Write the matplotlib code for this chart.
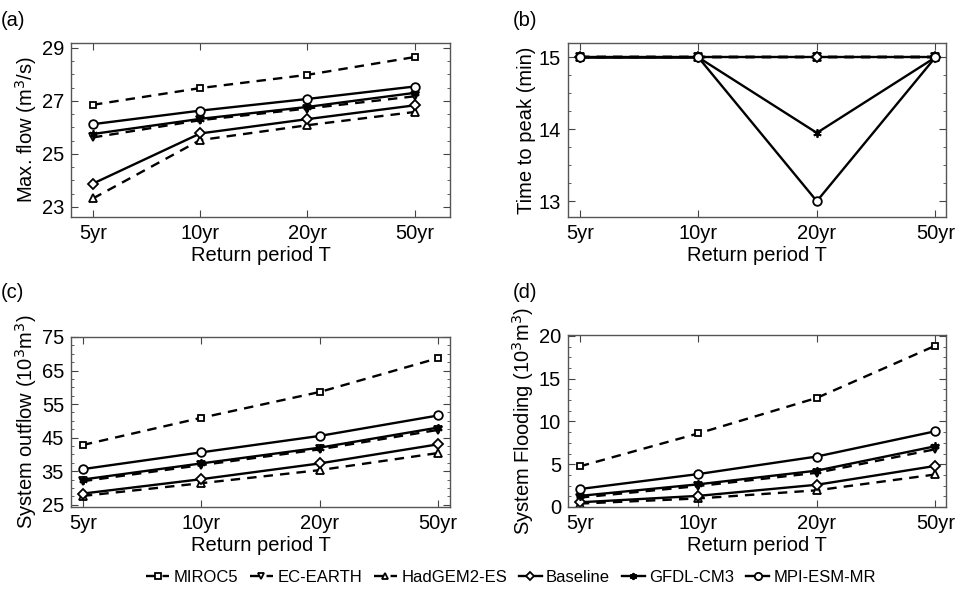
import matplotlib
matplotlib.use("Agg")
import matplotlib.pyplot as plt
from matplotlib.ticker import MultipleLocator
import numpy as np

plt.rcParams['font.family'] = ['Liberation Sans', 'DejaVu Sans']

periods = ["5yr", "10yr", "20yr", "50yr"]
series_names = ["MIROC5", "EC-EARTH", "HadGEM2-ES", "Baseline", "GFDL-CM3", "MPI-ESM-MR"]

max_flow = {
    "MIROC5":     [26.85, 27.48, 27.98, 28.65],
    "EC-EARTH":   [25.62, 26.27, 26.71, 27.17],
    "HadGEM2-ES": [23.32, 25.52, 26.08, 26.58],
    "Baseline":   [23.88, 25.77, 26.31, 26.83],
    "GFDL-CM3":   [25.75, 26.32, 26.77, 27.30],
    "MPI-ESM-MR": [26.12, 26.63, 27.07, 27.54],
}
time_to_peak = {
    "MIROC5":     [15, 15, 15, 15],
    "EC-EARTH":   [15, 15, 15, 15],
    "HadGEM2-ES": [15, 15, 15, 15],
    "Baseline":   [15, 15, 15, 15],
    "GFDL-CM3":   [15, 15, 13.95, 15],
    "MPI-ESM-MR": [15, 15, 13.0, 15],
}
outflow = {
    "MIROC5":     [42.8, 50.9, 58.6, 68.7],
    "EC-EARTH":   [32.0, 36.8, 41.5, 47.3],
    "HadGEM2-ES": [27.6, 31.4, 35.3, 40.4],
    "Baseline":   [28.3, 32.6, 37.3, 43.0],
    "GFDL-CM3":   [32.5, 37.3, 42.0, 48.0],
    "MPI-ESM-MR": [35.6, 40.6, 45.5, 51.6],
}
flooding = {
    "MIROC5":     [4.75, 8.6, 12.75, 18.85],
    "EC-EARTH":   [1.1, 2.45, 4.0, 6.75],
    "HadGEM2-ES": [0.4, 1.0, 1.95, 3.8],
    "Baseline":   [0.55, 1.3, 2.6, 4.8],
    "GFDL-CM3":   [1.3, 2.65, 4.25, 7.1],
    "MPI-ESM-MR": [2.1, 3.85, 5.9, 8.85],
}

styles = {
    "MIROC5":     dict(ls='--', marker='s', ms=4.8),
    "EC-EARTH":   dict(ls='--', marker='v', ms=5.5),
    "HadGEM2-ES": dict(ls='--', marker='^', ms=5.5),
    "Baseline":   dict(ls='-', marker='D', ms=4.6),
    "GFDL-CM3":   dict(ls='-', marker=(6, 2, 0), ms=6),
    "MPI-ESM-MR": dict(ls='-', marker='o', ms=6.2),
}

fig = plt.figure(figsize=(9.55, 5.92), dpi=100)
W, H = 955, 592

def add_ax(l, t, r, b):
    return fig.add_axes([l / W, (H - b) / H, (r - l) / W, (b - t) / H])

axa = add_ax(71, 43, 450, 217)
axb = add_ax(568, 43, 946, 217)
axc = add_ax(71, 337, 450, 507)
axd = add_ax(568, 335, 946, 507)

panels = [
    (axa, max_flow, "Max. flow (m$^3$/s)", (22.62, 29.18), [23, 25, 27, 29], 0.5, (-0.205, 3.33)),
    (axb, time_to_peak, "Time to peak (min)", (12.78, 15.2), [13, 14, 15], 0.25, (-0.1, 3.09)),
    (axc, outflow, "System outflow (10$^3$m$^3$)", (24.3, 75), [25, 35, 45, 55, 65, 75], 2.5, (-0.1, 3.1)),
    (axd, flooding, "System Flooding (10$^3$m$^3$)", (0, 20.1), [0, 5, 10, 15, 20], 1.25, (-0.1, 3.09)),
]

x = np.arange(len(periods))
handles = []
for ax, data, ylabel, ylim, yticks, minor, xlim in panels:
    hs = []
    for name in series_names:
        st = styles[name]
        h, = ax.plot(x, data[name], color='black', lw=1.7, ls=st['ls'],
                     marker=st['marker'], ms=st['ms'], mfc='white', mec='black',
                     mew=1.3, dashes=(4, 3) if st['ls'] == '--' else (None, None),
                     label=name)
        hs.append(h)
    handles = hs
    ax.set_xlim(*xlim)
    ax.set_ylim(*ylim)
    ax.set_xticks(x)
    ax.set_xticklabels(periods)
    ax.set_yticks(yticks)
    ax.yaxis.set_minor_locator(MultipleLocator(minor))
    ax.tick_params(which='both', direction='in', top=True, right=True,
                   labelsize=14.5, color='#444444', pad=5)
    ax.tick_params(which='major', length=5)
    ax.tick_params(which='minor', length=2.5)
    ax.set_xlabel("Return period T", fontsize=14.5, labelpad=2)
    ax.set_ylabel(ylabel, fontsize=14.5, labelpad=2)
    for sp in ax.spines.values():
        sp.set_color('#555555')
        sp.set_linewidth(1.0)

for lbl, (px, py) in zip(["(a)", "(b)", "(c)", "(d)"],
                         [(1, 20), (513, 20), (1, 293), (513, 293)]):
    fig.text(px / W, 1 - py / H, lbl, fontsize=14.5, ha='left', va='center')

fig.legend(handles, series_names, loc='center', bbox_to_anchor=(0.535, 1 - 577 / H),
           ncol=6, frameon=False, fontsize=12, handlelength=1.4,
           handletextpad=0.25, columnspacing=0.7, borderaxespad=0,
           markerscale=0.85)

fig.savefig("out.png", dpi=100)
